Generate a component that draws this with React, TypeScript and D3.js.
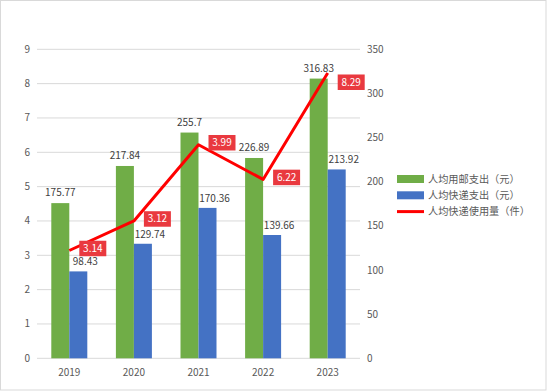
import React from 'react';
import * as d3 from 'd3';

const years = ['2019', '2020', '2021', '2022', '2023'];
const postSpend = [175.77, 217.84, 255.7, 226.89, 316.83];
const expressSpend = [98.43, 129.74, 170.36, 139.66, 213.92];
const expressUse = [3.14, 4.0, 6.22, 5.21, 8.31];
const expressUseLabels = ['3.14', '3.12', '3.99', '6.22', '8.29'];
const leftTicks = [0, 1, 2, 3, 4, 5, 6, 7, 8, 9];
const rightTicks = [0, 50, 100, 150, 200, 250, 300, 350];
const seriesNames = ['人均用邮支出（元）', '人均快递支出（元）', '人均快递使用量（件）'];

const W = 547;
const H = 391;
const plot = { left: 37, right: 360, top: 49.3, bottom: 358.3 };
const font = '"Noto Sans CJK SC", "Noto Sans", sans-serif';
const textColor = '#595959';
const green = '#70ad47';
const blue = '#4472c4';
const red = '#ff0000';
const boxRed = '#e9393f';

const App: React.FC = () => {
  const x = d3.scaleBand().domain(years).range([plot.left, plot.right]);
  const yLeft = d3.scaleLinear().domain([0, 9]).range([plot.bottom, plot.top]);
  const yRight = d3.scaleLinear().domain([0, 350]).range([plot.bottom, plot.top]);
  const barW = 18;
  const center = (d: string) => (x(d) || 0) + x.bandwidth() / 2;

  const line = d3.line<number>()
    .x((_, i) => center(years[i]))
    .y(d => yLeft(d));

  return (
    <svg width={W} height={H} style={{ position: 'absolute', left: 0, top: 0, display: 'block' }}
      fontFamily={font}>
      <rect x={0.5} y={0.5} width={W - 1.5} height={H - 1.5} fill="#fff" stroke="#d9d9d9" />

      {leftTicks.map(t => (
        <g key={'l' + t}>
          <line x1={plot.left} x2={plot.right} y1={yLeft(t)} y2={yLeft(t)} stroke="#d9d9d9" strokeWidth={1} />
          <text x={30} y={yLeft(t)} dy="0.35em" textAnchor="end" fontSize={10} fill={textColor}>{t}</text>
        </g>
      ))}
      {rightTicks.map(t => (
        <text key={'r' + t} x={367} y={yRight(t)} dy="0.35em" textAnchor="start" fontSize={10} fill={textColor}>{t}</text>
      ))}
      {years.map(y => (
        <text key={'x' + y} x={center(y)} y={372} dy="0.35em" textAnchor="middle" fontSize={10} fill={textColor}>{y}</text>
      ))}

      {years.map((yr, i) => (
        <g key={'b' + yr}>
          <rect x={center(yr) - barW} y={yRight(postSpend[i])} width={barW}
            height={plot.bottom - yRight(postSpend[i])} fill={green} />
          <rect x={center(yr)} y={yRight(expressSpend[i])} width={barW}
            height={plot.bottom - yRight(expressSpend[i])} fill={blue} />
          <text x={center(yr) - barW / 2} y={yRight(postSpend[i]) - 7} textAnchor="middle"
            fontSize={10} fill="#404040">{postSpend[i]}</text>
          <text x={center(yr) + barW / 2 + 7} y={yRight(expressSpend[i]) - 6} textAnchor="middle"
            fontSize={10} fill="#404040">{expressSpend[i]}</text>
        </g>
      ))}

      <path d={line(expressUse) || ''} fill="none" stroke={red} strokeWidth={3} strokeLinejoin="round" />

      {years.map((yr, i) => {
        const px = center(yr);
        const py = yLeft(expressUse[i]);
        const bx = px + 10;
        const bw = 27;
        const bh = 15.5;
        const by = i === 4 ? py + 1.5 : py - bh / 2 - 2;
        return (
          <g key={'lab' + yr}>
            <rect x={bx} y={by} width={bw} height={bh} fill={boxRed} />
            <text x={bx + bw / 2} y={by + bh / 2} dy="0.35em" textAnchor="middle" fontSize={10} fill="#fff">
              {expressUseLabels[i]}
            </text>
          </g>
        );
      })}

      {seriesNames.map((name, i) => {
        const ly = 179 + i * 16.3;
        return (
          <g key={'lg' + i}>
            {i < 2 ? (
              <rect x={397} y={ly - 4} width={27} height={8} fill={i === 0 ? green : blue} />
            ) : (
              <line x1={397} x2={424} y1={ly} y2={ly} stroke={red} strokeWidth={3} />
            )}
            <text x={428} y={ly} dy="0.35em" fontSize={10.2} fill={textColor}>{name}</text>
          </g>
        );
      })}
    </svg>
  );
};

export default App;
